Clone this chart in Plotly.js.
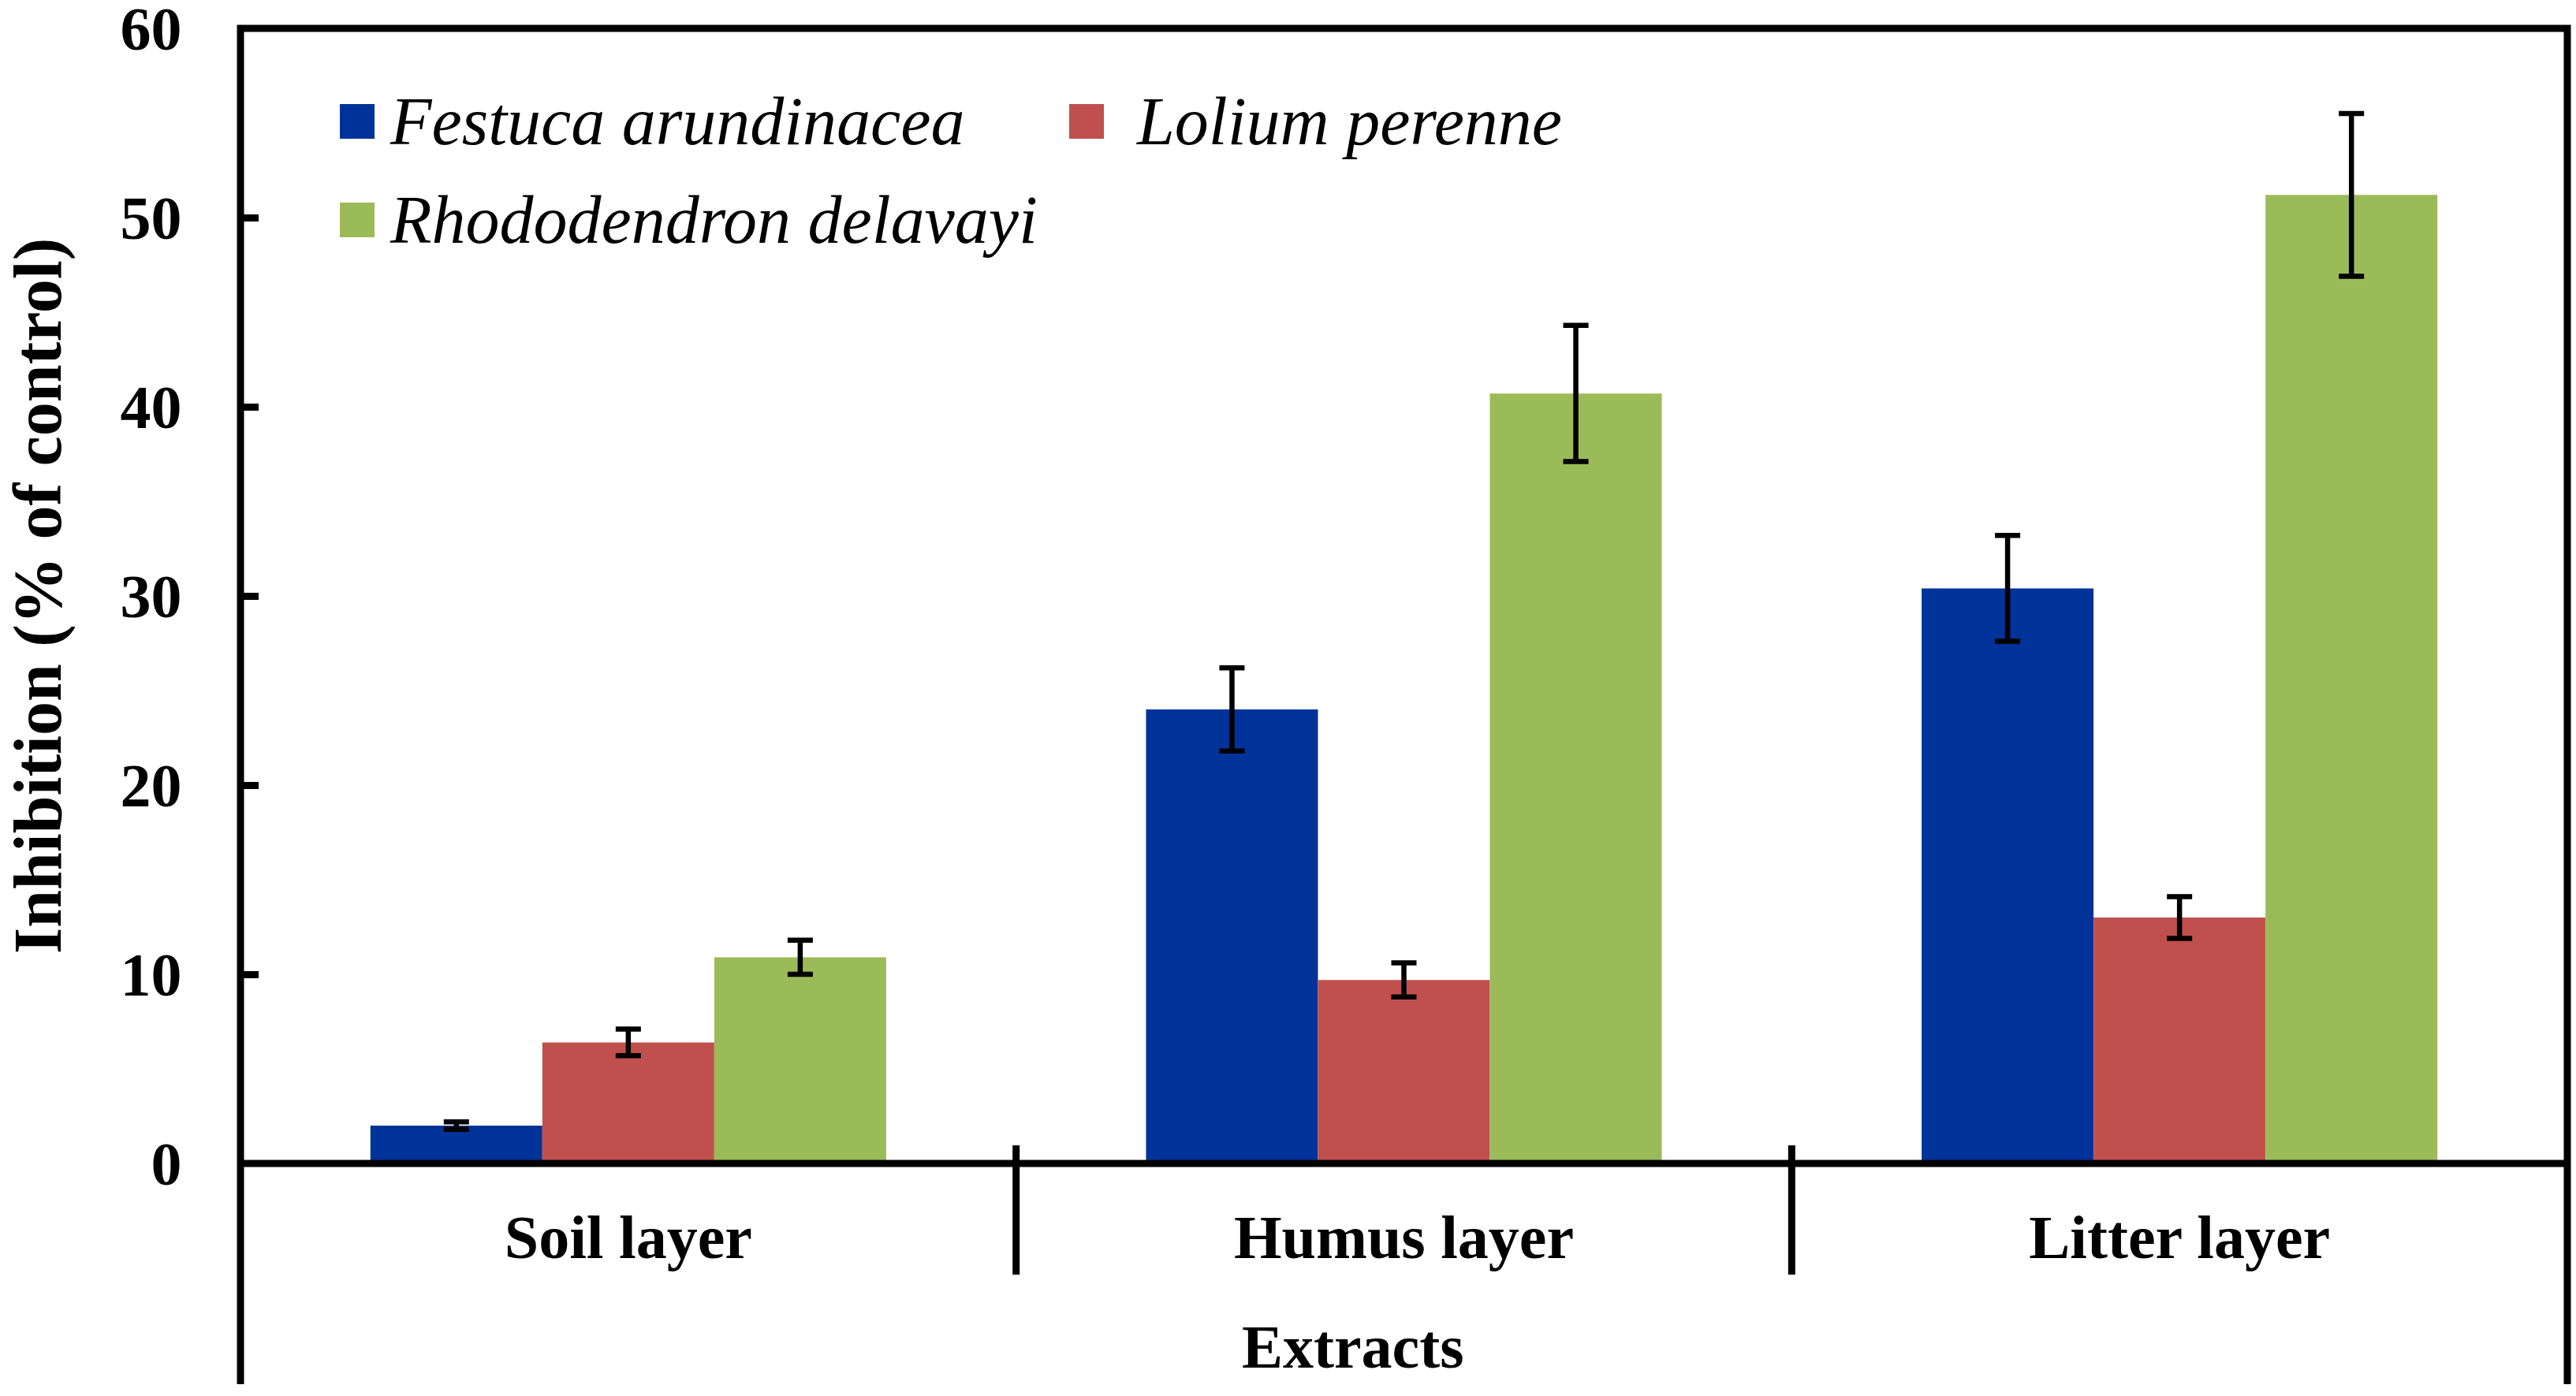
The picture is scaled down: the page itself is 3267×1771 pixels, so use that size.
<!DOCTYPE html>
<html>
<head>
<meta charset="utf-8">
<script src="https://cdn.plot.ly/plotly-3.0.1.min.js"></script>
<style>
html, body { margin: 0; padding: 0; background: #fff; }
#myDiv { width: 3267px; height: 1771px; }
</style>
</head>
<body>
<div id="myDiv"></div>
<script>
// data
const categories = ['Soil layer', 'Humus layer', 'Litter layer'];
const seriesNames = ['Festuca arundinacea', 'Lolium perenne', 'Rhododendron delavayi'];
const seriesColors = ['#003399', '#C0504D', '#9BBB59'];
const festuca = [2.0, 24.0, 30.4];
const festucaErr = [0.2, 2.2, 2.8];
const lolium = [6.4, 9.7, 13.0];
const loliumErr = [0.7, 0.9, 1.1];
const rhodo = [10.9, 40.7, 51.2];
const rhodoErr = [0.9, 3.6, 4.3];
const yTicks = [0, 10, 20, 30, 40, 50, 60];
const xTitle = 'Extracts';
const yTitle = 'Inhibition (% of control)';

const values = [festuca, lolium, rhodo];
const errors = [festucaErr, loliumErr, rhodoErr];

const FONT = 'Liberation Serif, Times New Roman, serif';
const LW = 9;

// page geometry
const W = 3267, H = 1771;
const M = { l: 305, r: 11, t: 36, b: 295 };
const plotW = W - M.l - M.r;
const plotH = H - M.t - M.b;
const px2x = px => (px - M.l) / plotW;
const px2y = py => (H - M.b - py) / plotH;

var data = values.map(function (v, i) {
    return {
        type: 'bar',
        x: categories,
        y: v,
        name: seriesNames[i],
        showlegend: false,
        marker: { color: seriesColors[i], line: { width: 0 } },
        error_y: {
            type: 'data',
            array: errors[i],
            visible: true,
            color: '#000000',
            thickness: 6.5,
            width: 16
        },
        hoverinfo: 'skip'
    };
});

// legend, drawn by hand so the swatches can be large
const legendSpots = [
    { left: 431, text: 492, cy: 154 },
    { left: 1356, text: 1438, cy: 154 },
    { left: 431, text: 492, cy: 279 }
];
const sw = 44;
var shapes = [];
var annotations = [];
seriesNames.forEach(function (name, i) {
    var s = legendSpots[i];
    shapes.push({
        type: 'rect', xref: 'paper', yref: 'paper',
        x0: px2x(s.left), x1: px2x(s.left + sw),
        y0: px2y(s.cy - sw / 2), y1: px2y(s.cy + sw / 2),
        fillcolor: seriesColors[i], line: { width: 0 }
    });
    annotations.push({
        xref: 'paper', yref: 'paper',
        x: px2x(s.text), y: px2y(s.cy),
        xanchor: 'left', yanchor: 'middle',
        text: name, showarrow: false,
        font: { family: FONT, size: 86, style: 'italic', color: '#000' }
    });
});

// x title sits a little left of centre in the original
annotations.push({
    xref: 'paper', yref: 'paper',
    x: px2x(1716), y: px2y(1708),
    xanchor: 'center', yanchor: 'middle',
    text: xTitle, showarrow: false,
    font: { family: FONT, size: 78, weight: 'bold', color: '#000' }
});

// frame: open box whose sides run on below the zero line, plus the zero line
const fb = px2y(1756);
shapes.push({
    type: 'path', xref: 'paper', yref: 'paper',
    path: 'M0,' + fb + ' L0,1 L1,1 L1,' + fb,
    fillcolor: 'rgba(0,0,0,0)',
    line: { color: '#000', width: LW }
});
shapes.push({
    type: 'line', xref: 'paper', yref: 'paper',
    x0: 0, x1: 1, y0: 0, y1: 0,
    line: { color: '#000', width: LW }
});

// dividers between the category groups, on the category axis
categories.slice(1).forEach(function (c, i) {
    shapes.push({
        type: 'line', xref: 'x', yref: 'paper',
        x0: i + 0.5, x1: i + 0.5,
        y0: px2y(1476 + 141), y1: px2y(1476 - 23),
        line: { color: '#000', width: LW }
    });
});

var layout = {
    width: W,
    height: H,
    margin: { l: M.l, r: M.r, t: M.t, b: M.b, pad: 0 },
    paper_bgcolor: '#ffffff',
    plot_bgcolor: '#ffffff',
    barmode: 'group',
    bargap: 0.335,
    bargroupgap: 0,
    font: { family: FONT, size: 78, color: '#000000' },
    xaxis: {
        type: 'category',
        showline: true,
        linewidth: 1,
        linecolor: 'rgba(0,0,0,0)',
        ticks: '',
        showgrid: false,
        zeroline: false,
        tickfont: { family: FONT, size: 78, weight: 'bold' },
        ticklabelstandoff: 25
    },
    yaxis: {
        range: [0, 60],
        tickmode: 'array',
        tickvals: yTicks,
        ticks: 'inside',
        ticklen: 23,
        tickwidth: LW,
        tickcolor: '#000',
        showline: true,
        linewidth: 1,
        linecolor: 'rgba(0,0,0,0)',
        showgrid: false,
        zeroline: false,
        tickfont: { family: FONT, size: 78, weight: 'bold' },
        ticklabelstandoff: 58,
        ticklabeloverflow: 'allow',
        title: {
            text: yTitle,
            font: { family: FONT, size: 86, weight: 'bold' },
            standoff: 63
        }
    },
    shapes: shapes,
    annotations: annotations
};

Plotly.newPlot('myDiv', data, layout, { displayModeBar: false, staticPlot: true });
</script>
</body>
</html>
